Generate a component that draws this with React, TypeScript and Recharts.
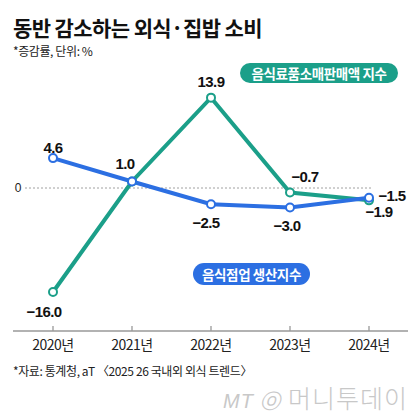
import { LineChart, Line, XAxis, YAxis, ReferenceLine, LabelList } from "recharts";

const years = ["2020년", "2021년", "2022년", "2023년", "2024년"];
// 음식료품소매판매액 지수
const foodRetail = [-16.0, 1.0, 13.9, -0.7, -1.9];
// 음식점업 생산지수
const restaurant = [4.6, 1.0, -2.5, -3.0, -1.5];

const GREEN = "#1b9f89";
const BLUE = "#2c6fe2";
const FONT = "'Noto Sans CJK KR', 'Noto Sans', sans-serif";
const NUM_FONT = "'Liberation Sans', Arial, sans-serif";

// label offsets (dx, dy) from each point
const foodOffsets = [[-9, 20], [0, 0], [0, -16], [15, -16], [10, 11]];
const restOffsets = [[0, -11], [-7, -18], [-5, 18], [-3, 18], [23, -2]];

const data = years.map((year, i) => ({
  year,
  foodRetail: foodRetail[i],
  restaurant: restaurant[i],
}));

function fmt(v: number) {
  const s = Math.abs(v).toFixed(1);
  return v < 0 ? `\u2212${s}` : s;
}

function makeLabel(offsets: number[][], skip: number[] = []) {
  return (props: any) => {
    const { x, y, value, index } = props;
    if (skip.includes(index)) return null;
    const [dx, dy] = offsets[index] ?? [0, 0];
    return (
      <text
        x={x + dx}
        y={y + dy}
        dy="0.36em"
        textAnchor="middle"
        fontFamily={NUM_FONT}
        fontWeight="bold"
        fontSize={15}
        letterSpacing={-0.6}
        fill="#111"
      >
        {fmt(Number(value))}
      </text>
    );
  };
}

function YearTick(props: any) {
  const { x, y, payload } = props;
  return (
    <g>
      <line x1={x} x2={x} y1={y - 5} y2={y} stroke="#999" strokeWidth={1.3} />
      <text
        x={x}
        y={y + 14}
        dy="0.36em"
        textAnchor="middle"
        fontFamily={FONT}
        fontSize={14}
        letterSpacing={-0.5}
        fill="#222"
      >
        {payload.value}
      </text>
    </g>
  );
}

function ZeroLine(props: any) {
  const { x1, y1, x2 } = props;
  return (
    <g>
      <line
        x1={x1 + 12}
        x2={x2 - 35}
        y1={y1}
        y2={y1}
        stroke="#888"
        strokeWidth={0.8}
        strokeDasharray="2 2"
      />
      <text x={x1 + 5} y={y1} dy="0.36em" textAnchor="middle" fontFamily={NUM_FONT} fontSize={12} fill="#222">
        0
      </text>
    </g>
  );
}

export default function App() {
  return (
    <div
      style={{
        position: "absolute",
        left: 0,
        top: 0,
        width: 420,
        height: 420,
        background: "#fff",
        fontFamily: FONT,
        overflow: "hidden",
      }}
    >
      <div style={{ position: "absolute", left: 13, top: 13, fontSize: 21, fontWeight: 700, color: "#111", letterSpacing: -0.6, lineHeight: "28px" }}>
        동반 감소하는 외식·집밥 소비
      </div>
      <div style={{ position: "absolute", left: 13, top: 42, fontSize: 12, color: "#222", letterSpacing: -0.4 }}>
        *증감률, 단위: %
      </div>

      <LineChart width={420} height={420} data={data} margin={{ top: 58, right: 12, bottom: 59, left: 13 }}>
        <XAxis
          dataKey="year"
          padding={{ left: 40, right: 39 }}
          axisLine={{ stroke: "#999", strokeWidth: 1.3 }}
          tickLine={false}
          tickSize={0}
          tickMargin={0}
          interval={0}
          height={30}
          tick={<YearTick />}
        />
        <YAxis hide domain={[-22, 20]} />
        <ReferenceLine y={0} shape={ZeroLine} />
        <Line
          dataKey="foodRetail"
          stroke={GREEN}
          strokeWidth={4}
          dot={{ r: 4, fill: "#fff", stroke: GREEN, strokeWidth: 2 }}
          isAnimationActive={false}
        >
          <LabelList dataKey="foodRetail" content={makeLabel(foodOffsets, [1])} />
        </Line>
        <Line
          dataKey="restaurant"
          stroke={BLUE}
          strokeWidth={4}
          dot={{ r: 4, fill: "#fff", stroke: BLUE, strokeWidth: 2 }}
          isAnimationActive={false}
        >
          <LabelList dataKey="restaurant" content={makeLabel(restOffsets)} />
        </Line>
      </LineChart>

      <div
        style={{
          position: "absolute",
          left: 240,
          top: 63,
          width: 158,
          height: 20,
          borderRadius: 10,
          background: GREEN,
          color: "#fff",
          fontSize: 13.5,
          fontWeight: 700,
          lineHeight: "20px",
          textAlign: "center",
          letterSpacing: -0.4,
        }}
      >
        음식료품소매판매액 지수
      </div>
      <div
        style={{
          position: "absolute",
          left: 193,
          top: 263,
          width: 117,
          height: 22,
          borderRadius: 11,
          background: BLUE,
          color: "#fff",
          fontSize: 13.5,
          fontWeight: 700,
          lineHeight: "22px",
          textAlign: "center",
          letterSpacing: -0.4,
        }}
      >
        음식점업 생산지수
      </div>

      <div style={{ position: "absolute", left: 13, top: 362, fontSize: 12, color: "#222", letterSpacing: -0.4 }}>
        *자료: 통계청, aT 〈2025 26 국내외 외식 트렌드〉
      </div>
      <div
        style={{
          position: "absolute",
          right: 12,
          top: 383,
          fontSize: 25,
          lineHeight: "28px",
          color: "#c8c8c8",
          fontWeight: 300,
          letterSpacing: 1,
          whiteSpace: "nowrap",
        }}
      >
        <span style={{ fontStyle: "italic", fontFamily: NUM_FONT, fontSize: 20 }}>MT ⓞ </span>머니투데이
      </div>
    </div>
  );
}
